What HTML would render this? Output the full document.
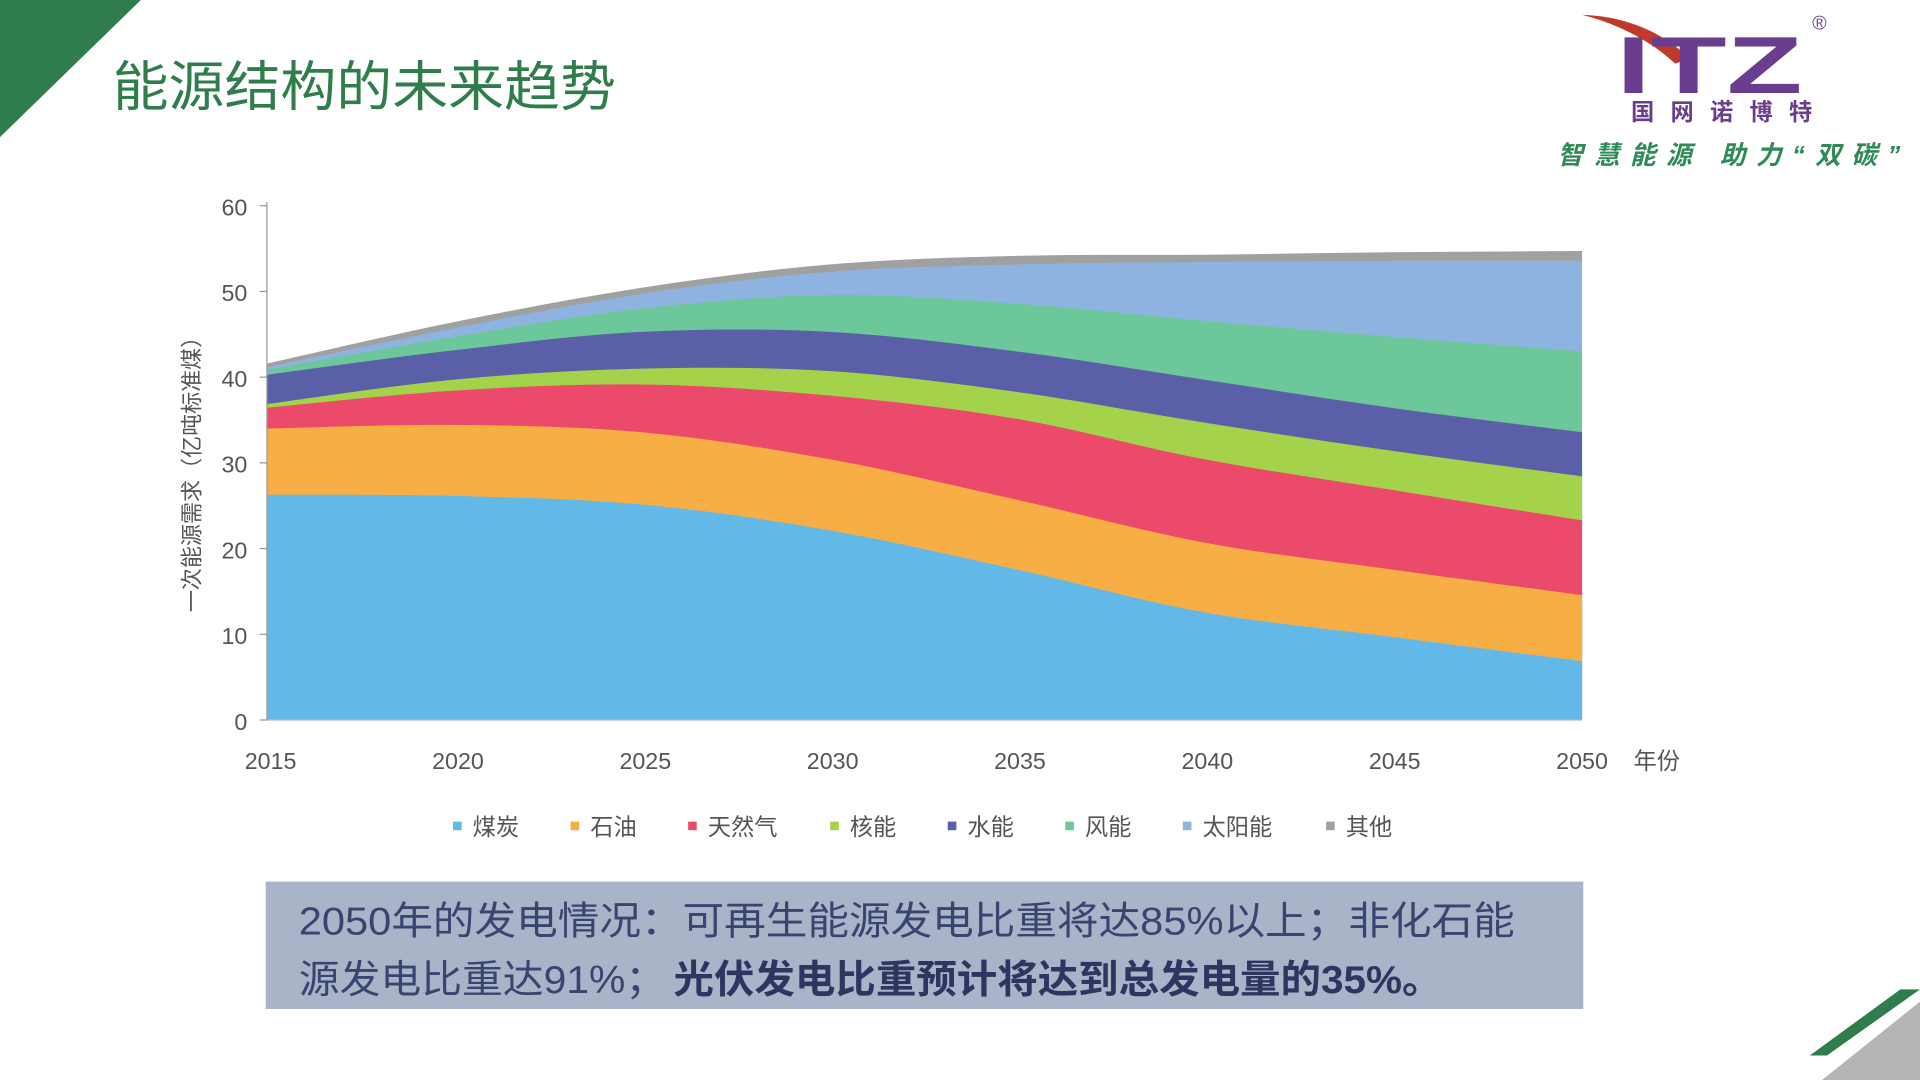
<!DOCTYPE html>
<html><head><meta charset="utf-8"><style>
html,body{margin:0;padding:0;background:#fff;width:1920px;height:1080px;overflow:hidden}
svg{display:block}
text{font-family:"Liberation Sans","Noto Sans CJK SC",sans-serif}
</style></head><body>
<svg id="s" width="1920" height="1080" viewBox="0 0 1568 882" xmlns="http://www.w3.org/2000/svg">
<polygon points="0,0 115,0 0,112" fill="#2e7d4a"/>
<text x="92" y="86" font-size="44" fill="#2e7d4a" textLength="411" lengthAdjust="spacingAndGlyphs">能源结构的未来趋势</text>
<!-- logo -->
<path d="M1292,12 Q1345,14 1380,48 L1368,52 Q1338,24 1292,12Z" fill="#c0392b"/>
<text x="1320" y="76" font-size="66" font-weight="bold" fill="#6a3d8f" textLength="152" lengthAdjust="spacingAndGlyphs">ITZ</text>
<text x="1480" y="24" font-size="16" fill="#6a3d8f">®</text>
<text x="1332" y="98" font-size="19" font-weight="bold" fill="#6a3d8f" textLength="148" lengthAdjust="spacing">国网诺博特</text>
<text x="1272" y="134" font-size="21" font-weight="bold" font-style="italic" fill="#2e8b57" textLength="280" lengthAdjust="spacing">智慧能源 助力“双碳”</text>
<g id="areas"></g>
<!-- axes -->
<line x1="218" y1="165" x2="218" y2="588" stroke="#999" stroke-width="1"/>
<line x1="218" y1="588" x2="1292" y2="588" stroke="#bbb" stroke-width="1"/>
<g stroke="#999"><line x1="212" y1="168" x2="218" y2="168"/><line x1="212" y1="238" x2="218" y2="238"/><line x1="212" y1="308" x2="218" y2="308"/><line x1="212" y1="378" x2="218" y2="378"/><line x1="212" y1="448" x2="218" y2="448"/><line x1="212" y1="518" x2="218" y2="518"/><line x1="212" y1="588" x2="218" y2="588"/></g>
<g font-size="19" fill="#555" text-anchor="end">
<text x="202" y="176">60</text><text x="202" y="246">50</text><text x="202" y="316">40</text><text x="202" y="386">30</text><text x="202" y="456">20</text><text x="202" y="526">10</text><text x="202" y="596">0</text></g>
<g font-size="19" fill="#555" text-anchor="middle">
<text x="221" y="628">2015</text><text x="374" y="628">2020</text><text x="527" y="628">2025</text><text x="680" y="628">2030</text><text x="833" y="628">2035</text><text x="986" y="628">2040</text><text x="1139" y="628">2045</text><text x="1292" y="628">2050</text><text x="1353" y="628">年份</text></g>
<text transform="translate(163,383) rotate(-90)" font-size="18" fill="#555" text-anchor="middle">一次能源需求（亿吨标准煤）</text>
<g font-size="19" fill="#555">
<rect x="370" y="671" width="7" height="7" fill="#62b9e8"/><text x="386" y="682">煤炭</text>
<rect x="466" y="671" width="7" height="7" fill="#f7ae45"/><text x="482" y="682">石油</text>
<rect x="562" y="671" width="7" height="7" fill="#ec4a6a"/><text x="578" y="682">天然气</text>
<rect x="678" y="671" width="7" height="7" fill="#a4d24a"/><text x="694" y="682">核能</text>
<rect x="774" y="671" width="7" height="7" fill="#5b5fa8"/><text x="790" y="682">水能</text>
<rect x="870" y="671" width="7" height="7" fill="#6cc79a"/><text x="886" y="682">风能</text>
<rect x="966" y="671" width="7" height="7" fill="#8fb3e0"/><text x="982" y="682">太阳能</text>
<rect x="1083" y="671" width="7" height="7" fill="#a0a0a0"/><text x="1099" y="682">其他</text></g>
<rect x="217" y="720" width="1076" height="104" fill="#a9b4c8"/>
<text x="244" y="763" font-size="32" fill="#3a4470" textLength="993" lengthAdjust="spacingAndGlyphs">2050年的发电情况：可再生能源发电比重将达85%以上；非化石能</text>
<text x="244" y="811" font-size="32" fill="#3a4470" textLength="300" lengthAdjust="spacingAndGlyphs">源发电比重达91%；</text>
<text x="550" y="811" font-size="32" font-weight="bold" fill="#2e3560" textLength="628" lengthAdjust="spacingAndGlyphs">光伏发电比重预计将达到总发电量的35%。</text>
<polygon points="1478,862 1552,808 1568,808 1492,862" fill="#2e7d4a"/>
<polygon points="1568,818 1568,882 1488,882" fill="#b5b5b5"/>
</svg>
<script>
var xs=[218,371,524,677,830,983,1136,1292];
var tops=[
[404,405,412,433,465,500,520,540],
[350,347,353,375,408,443,465,486],
[333,319,314,323,342,375,400,425],
[330,310,301,303,320,345,368,389],
[306,286,271,271,287,310,333,353],
[302,275,252,241,248,262,275,287],
[300,268,240,222,216,214,213,213],
[297,263,235,216,209,208,206,205]];
var cols=["#62b9e8","#f7ae45","#ec4a6a","#a4d24a","#5b5fa8","#6cc79a","#8fb3e0","#a0a0a0"];
function curve(ys){var p=[];for(var i=0;i<xs.length;i++)p.push([xs[i],ys[i]]);
var d="";for(var i=0;i<p.length-1;i++){var p0=p[Math.max(0,i-1)],p1=p[i],p2=p[i+1],p3=p[Math.min(p.length-1,i+2)];
var c1=[p1[0]+(p2[0]-p0[0])/6,p1[1]+(p2[1]-p0[1])/6],c2=[p2[0]-(p3[0]-p1[0])/6,p2[1]-(p3[1]-p1[1])/6];
d+=" C"+c1+" "+c2+" "+p2;}return {s:p[0],d:d};}
var g=document.getElementById("areas"),h="";
for(var k=cols.length-1;k>=0;k--){var t=curve(tops[k]);
h+='<path d="M218,588 L'+t.s+t.d+' L1292,588Z" fill="'+cols[k]+'"/>';}
g.innerHTML=h;
</script>
</body></html>
